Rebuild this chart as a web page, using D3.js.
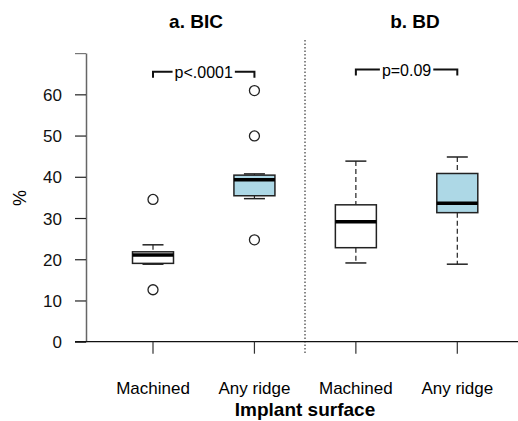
<!DOCTYPE html>
<html>
<head>
<meta charset="utf-8">
<script src="https://cdn.jsdelivr.net/npm/d3@7"></script>
<style>
  body { margin: 0; background: #fff; }
  svg { font-family: "Liberation Sans", Arial, sans-serif; }
</style>
</head>
<body>
<svg id="graph" width="518" height="421"></svg>
<script>
// data
var categories = ["Machined", "Any ridge", "Machined", "Any ridge"];
var panels = ["a. BIC", "b. BD"];
var boxFill = ["#ffffff", "#add8e6", "#ffffff", "#add8e6"];
var q1 = [19.0, 35.4, 22.8, 31.3];
var medians = [21.0, 39.3, 29.1, 33.6];
var q3 = [21.8, 40.4, 33.2, 40.8];
var whiskLow = [18.8, 34.7, 19.1, 18.8];
var whiskHigh = [23.5, 40.7, 43.8, 44.8];
var outliers = [[34.5, 12.6], [60.9, 49.9, 24.7], [], []];
var yTicks = [0, 10, 20, 30, 40, 50, 60, 70];
var pLabels = ["p<.0001", "p=0.09"];
var pLevel = [65.5, 66];

document.addEventListener("DOMContentLoaded", function() {
	var graph = d3.select("#graph");

	var x = d3.scaleLinear().domain([1, 4]).range([153, 457.3]),
		y = d3.scaleLinear().domain([0, 70]).range([341.7, 53.1]);

	var boxW = 41, capW = 21;

	//y axis
	var yAxis = graph.append("g")
		.attr("transform", "translate(86,0)")
		.call(d3.axisLeft(y).tickValues(yTicks).tickSize(11).tickSizeOuter(0)
			.tickFormat(function(d) { return d === 70 ? "" : d; }));
	yAxis.attr("font-size", 17).attr("font-family", null);
	yAxis.select(".domain").attr("stroke", "#666").attr("stroke-width", 1.5);
	yAxis.selectAll(".tick line").attr("stroke", "#222").attr("stroke-width", 1.2);
	yAxis.selectAll(".tick").filter(function(d) { return d === 70; }).select("line").attr("stroke", "#777");
	yAxis.selectAll(".tick text").attr("fill", "#111").attr("x", -24).attr("dy", "0.36em");

	graph.append("text")
		.attr("transform", "translate(26,198) rotate(-90)")
		.attr("text-anchor", "middle")
		.attr("font-size", 18)
		.text("%");

	//x axis
	graph.append("line")
		.attr("x1", 75).attr("x2", 518)
		.attr("y1", y(0)).attr("y2", y(0))
		.attr("stroke", "#111").attr("stroke-width", 1.2);

	categories.forEach(function(c, i) {
		graph.append("line")
			.attr("x1", x(i + 1)).attr("x2", x(i + 1))
			.attr("y1", y(0)).attr("y2", y(0) + 12)
			.attr("stroke", "#333").attr("stroke-width", 1.2);
		graph.append("text")
			.attr("x", x(i + 1)).attr("y", 394)
			.attr("text-anchor", "middle")
			.attr("font-size", 17)
			.text(c);
	});

	graph.append("text")
		.attr("x", 305).attr("y", 416)
		.attr("text-anchor", "middle")
		.attr("font-size", 19).attr("font-weight", "bold")
		.text("Implant surface");

	//panel divider
	graph.append("line")
		.attr("x1", 305).attr("x2", 305)
		.attr("y1", 40).attr("y2", y(0) + 12)
		.attr("stroke", "#111").attr("stroke-width", 1)
		.attr("stroke-dasharray", "1.5,2");

	panels.forEach(function(p, i) {
		graph.append("text")
			.attr("x", i === 0 ? 196 : 415).attr("y", 28)
			.attr("text-anchor", "middle")
			.attr("font-size", 19).attr("font-weight", "bold")
			.text(p);
	});

	//p-value brackets
	pLabels.forEach(function(p, i) {
		var xa = x(2 * i + 1), xb = x(2 * i + 2), yy = y(pLevel[i]), mid = (xa + xb) / 2;
		var g = graph.append("g").attr("stroke", "#111").attr("stroke-width", 2).attr("fill", "none");
		var t = graph.append("text")
			.attr("x", mid).attr("y", yy + 6)
			.attr("text-anchor", "middle")
			.attr("font-size", 16)
			.text(p);
		var half = t.node().getComputedTextLength() / 2 + 2;
		g.append("path").attr("d", "M" + xa + "," + (yy + 6) + "V" + yy + "H" + (mid - half));
		g.append("path").attr("d", "M" + xb + "," + (yy + 6) + "V" + yy + "H" + (mid + half));
	});

	//boxes
	var boxes = graph.selectAll(".box")
		.data(categories)
		.enter().append("g")
			.attr("class", "box");

	boxes.append("line")
		.attr("x1", function(d, i) { return x(i + 1); })
		.attr("x2", function(d, i) { return x(i + 1); })
		.attr("y1", function(d, i) { return y(whiskHigh[i]); })
		.attr("y2", function(d, i) { return y(q3[i]); })
		.attr("stroke", "#222").attr("stroke-width", 1.2).attr("stroke-dasharray", "5,3");
	boxes.append("line")
		.attr("x1", function(d, i) { return x(i + 1); })
		.attr("x2", function(d, i) { return x(i + 1); })
		.attr("y1", function(d, i) { return y(q1[i]); })
		.attr("y2", function(d, i) { return y(whiskLow[i]); })
		.attr("stroke", "#222").attr("stroke-width", 1.2).attr("stroke-dasharray", "5,3");
	[whiskHigh, whiskLow].forEach(function(arr) {
		boxes.append("line")
			.attr("x1", function(d, i) { return x(i + 1) - capW / 2; })
			.attr("x2", function(d, i) { return x(i + 1) + capW / 2; })
			.attr("y1", function(d, i) { return y(arr[i]); })
			.attr("y2", function(d, i) { return y(arr[i]); })
			.attr("stroke", "#222").attr("stroke-width", 1.5);
	});
	boxes.append("rect")
		.attr("x", function(d, i) { return x(i + 1) - boxW / 2; })
		.attr("width", boxW)
		.attr("y", function(d, i) { return y(q3[i]); })
		.attr("height", function(d, i) { return y(q1[i]) - y(q3[i]); })
		.attr("fill", function(d, i) { return boxFill[i]; })
		.attr("stroke", "#222").attr("stroke-width", 1.5);
	boxes.append("line")
		.attr("x1", function(d, i) { return x(i + 1) - boxW / 2; })
		.attr("x2", function(d, i) { return x(i + 1) + boxW / 2; })
		.attr("y1", function(d, i) { return y(medians[i]); })
		.attr("y2", function(d, i) { return y(medians[i]); })
		.attr("stroke", "#000").attr("stroke-width", 3.5);

	boxes.each(function(d, i) {
		d3.select(this).selectAll("circle")
			.data(outliers[i])
			.enter().append("circle")
				.attr("cx", x(i + 1))
				.attr("cy", function(v) { return y(v); })
				.attr("r", 5)
				.attr("fill", "none")
				.attr("stroke", "#222").attr("stroke-width", 1.3);
	});
});
</script>
</body>
</html>
